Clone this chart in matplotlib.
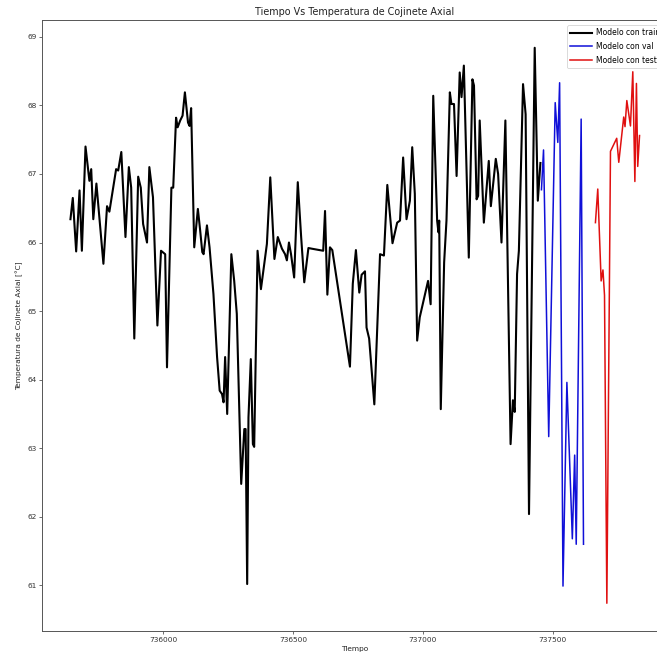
import matplotlib
matplotlib.use("Agg")
import matplotlib.pyplot as plt

# ---- data (date ordinals, temperature in °C) ----
train_t = [735642, 735651, 735664, 735677, 735686, 735700, 735710, 735715, 735722, 735730,
           735742, 735769, 735783, 735792, 735818, 735826, 735838, 735854, 735867, 735876,
           735888, 735903, 735913, 735922, 735937, 735946, 735960, 735977, 735991, 736007,
           736014, 736031, 736038, 736049, 736055, 736065, 736074, 736083, 736095, 736101,
           736107, 736119, 736133, 736142, 736150, 736155, 736168, 736178, 736193, 736207,
           736217, 736226, 736232, 736238, 736246, 736262, 736273, 736283, 736300, 736312,
           736317, 736323, 736328, 736337, 736345, 736350, 736363, 736376, 736399, 736412,
           736428, 736441, 736457, 736469, 736476, 736484, 736492, 736504, 736518, 736531,
           736543, 736559, 736572, 736616, 736623, 736632, 736642, 736651, 736719, 736730,
           736742, 736755, 736764, 736777, 736783, 736793, 736813, 736835, 736850, 736863,
           736883, 736901, 736912, 736924, 736937, 736950, 736959, 736969, 736978, 736988,
           737020, 737030, 737040, 737055, 737060, 737063, 737069, 737082, 737091, 737104,
           737110, 737120, 737130, 737142, 737149, 737158, 737177, 737191, 737197, 737207,
           737213, 737219, 737235, 737254, 737262, 737281, 737290, 737303, 737318, 737338,
           737347, 737354, 737363, 737370, 737386, 737396, 737409, 737431, 737443, 737453]
train_y = [66.34, 66.65, 65.87, 66.76, 65.88, 67.40, 67.07, 66.90, 67.07, 66.34,
           66.86, 65.69, 66.53, 66.45, 67.07, 67.05, 67.32, 66.08, 67.10, 66.80,
           64.60, 66.96, 66.80, 66.27, 66.00, 67.10, 66.66, 64.79, 65.88, 65.83,
           64.18, 66.80, 66.80, 67.82, 67.68, 67.78, 67.85, 68.19, 67.75, 67.70,
           67.96, 65.93, 66.49, 66.17, 65.86, 65.83, 66.25, 65.93, 65.25, 64.33,
           63.84, 63.79, 63.67, 64.33, 63.50, 65.83, 65.44, 64.96, 62.48, 63.28,
           63.28, 61.02, 63.45, 64.30, 63.06, 63.02, 65.88, 65.32, 65.98, 66.95,
           65.76, 66.08, 65.91, 65.83, 65.74, 66.00, 65.83, 65.49, 66.88, 66.08,
           65.42, 65.92, 65.91, 65.88, 66.46, 65.24, 65.93, 65.89, 64.19, 65.40,
           65.89, 65.27, 65.53, 65.58, 64.76, 64.60, 63.64, 65.83, 65.81, 66.84,
           65.99, 66.29, 66.32, 67.24, 66.34, 66.61, 67.39, 66.71, 64.57, 64.91,
           65.44, 65.10, 68.14, 66.32, 66.15, 66.32, 63.57, 65.71, 66.32, 68.19,
           68.02, 68.02, 66.97, 68.48, 68.12, 68.58, 65.78, 68.38, 68.29, 66.63,
           66.68, 67.78, 66.29, 67.19, 66.53, 67.22, 67.00, 66.00, 67.78, 63.06,
           63.70, 63.53, 65.54, 65.88, 68.31, 67.87, 62.04, 68.84, 66.61, 67.16]

val_t = [737457, 737465, 737485, 737510, 737520, 737527, 737540, 737555, 737576,
         737585, 737591, 737610, 737619]
val_y = [66.77, 67.35, 63.17, 68.04, 67.46, 68.33, 60.99, 63.96, 61.68,
         62.90, 61.60, 67.80, 61.60]

test_t = [737665, 737674, 737687, 737694, 737700, 737709, 737723, 737747, 737755,
          737774, 737779, 737786, 737800, 737809, 737817, 737823, 737828, 737835]
test_y = [66.29, 66.78, 65.44, 65.60, 65.23, 60.74, 67.33, 67.52, 67.17,
          67.83, 67.69, 68.07, 67.70, 68.49, 66.89, 68.32, 67.11, 67.56]

labels = ["Modelo con train", "Modelo con val", "Modelo con test"]

fs = 5.3
fig = plt.figure(figsize=(6.57, 6.56), dpi=100)
ax = fig.add_axes([42/657, 1-631/656, (668-42)/657, (631-20)/656])

ax.plot(train_t, train_y, color="black", lw=1.5, label=labels[0])
ax.plot(val_t, val_y, color="#1010d8", lw=1.1, label=labels[1])
ax.plot(test_t, test_y, color="#e01010", lw=1.1, label=labels[2])

ax.set_title("Tiempo Vs Temperatura de Cojinete Axial", fontsize=6.9, pad=3.5, color="#222222")
ax.set_xlabel("Tiempo", fontsize=fs, labelpad=2.5, color="#222222")
ax.set_ylabel("Temperatura de Cojinete Axial [°C]", fontsize=fs, labelpad=3, color="#222222")
ax.set_xticks([736000, 736500, 737000, 737500])
ax.set_xticklabels(["736000", "736500", "737000", "737500"])
ax.tick_params(labelsize=fs, length=2, width=0.5, pad=2, colors="#333333")
for s in ax.spines.values():
    s.set_linewidth(0.7)
    s.set_color("#555555")

leg = ax.legend(loc="upper left", bbox_to_anchor=(567/657, 1-25/656),
                bbox_transform=fig.transFigure, borderaxespad=0,
                fontsize=5.5, framealpha=1, borderpad=0.45,
                handlelength=2.8, handletextpad=0.55, labelspacing=0.6,
                edgecolor="#cccccc")
leg.get_frame().set_linewidth(0.5)

fig.savefig("out.png", dpi=100)
